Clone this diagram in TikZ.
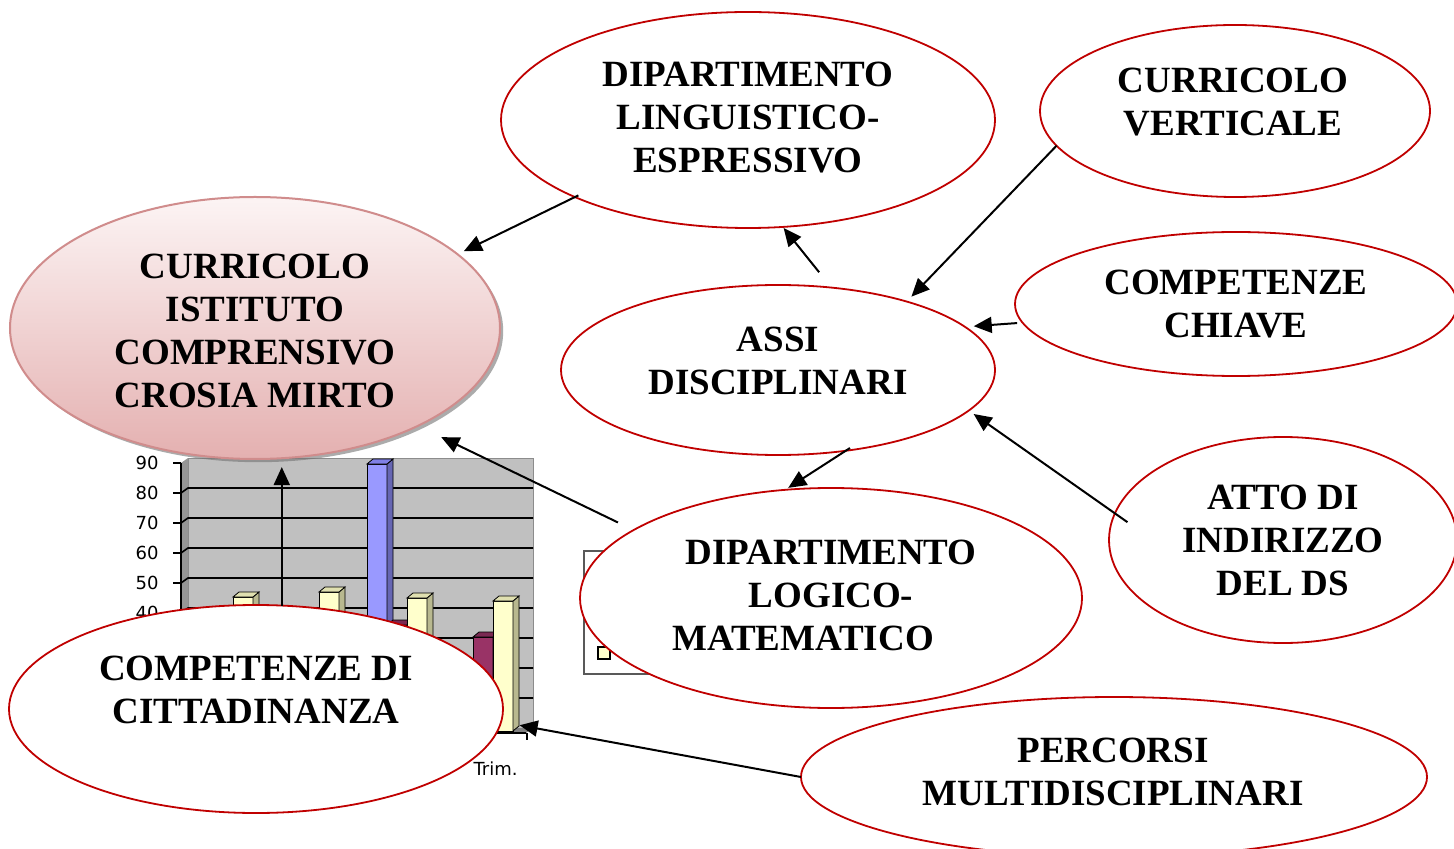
\documentclass[tikz,border=0pt]{standalone}
\usepackage{fontspec}
\setmainfont{Liberation Serif}
\newfontfamily\chartfont{DejaVu Sans}
\usetikzlibrary{shapes.geometric,arrows.meta,shadows}
\definecolor{ovalred}{RGB}{192,0,0}
\definecolor{pinkline}{RGB}{208,140,140}
\definecolor{pinktop}{RGB}{252,244,244}
\definecolor{pinkbot}{RGB}{228,176,176}
\definecolor{wallgray}{RGB}{192,192,192}
\definecolor{sidegray}{RGB}{150,150,150}
\definecolor{floorgray}{RGB}{128,128,128}
\definecolor{yfront}{RGB}{255,255,204}
\definecolor{yside}{RGB}{184,184,143}
\definecolor{ytop}{RGB}{224,224,176}
\definecolor{bfront}{RGB}{153,153,255}
\definecolor{bside}{RGB}{102,102,179}
\definecolor{btop}{RGB}{128,128,230}
\definecolor{mfront}{RGB}{153,51,102}
\definecolor{mside}{RGB}{102,34,68}
\definecolor{mtop}{RGB}{122,41,82}
\newcommand{\mybar}[3]{%
  \filldraw[barline, fill=#3front] (#1,#2) rectangle (#1+20,731);
  \filldraw[barline, fill=#3side] (#1+20,#2) -- (#1+26,#2-5) -- (#1+26,726) -- (#1+20,731) -- cycle;
  \filldraw[barline, fill=#3top] (#1,#2) -- (#1+6,#2-5) -- (#1+26,#2-5) -- (#1+20,#2) -- cycle;
}
\tikzset{
  oval/.style={ellipse, draw=ovalred, line width=0.9pt, fill=white, inner sep=0pt, outer sep=0pt},
  pinkoval/.style={ellipse, draw=pinkline, line width=1pt, top color=pinktop, bottom color=pinkbot,
    inner sep=0pt, outer sep=0pt,
    drop shadow={shadow xshift=1.6pt, shadow yshift=-1.6pt, fill=black!55, opacity=0.6}},
  txt/.style={font=\fontsize{18.5pt}{21.5pt}\selectfont\bfseries, align=center, inner sep=0pt},
  arr/.style={-{Triangle[length=9pt,width=8pt]}, line width=1pt, black},
  barline/.style={draw=black, line width=0.4pt},
  grid/.style={black, line width=0.8pt},
  chartlab/.style={font=\chartfont\fontsize{9pt}{11pt}\selectfont, inner sep=0pt},
}
\begin{document}
\begin{tikzpicture}[x=0.5pt, y=-0.5pt]
\useasboundingbox (0,0) rectangle (1454,849);
\fill[white] (0,0) rectangle (1454,849);
% ---------- chart behind ----------
\fill[sidegray] (181,463) -- (188,458) -- (188,728) -- (181,733) -- cycle;
\filldraw[fill=wallgray, draw=black!45, line width=0.5pt] (188,458) rectangle (533,728);
\fill[floorgray] (181,733) -- (188,728) -- (533,728) -- (526,733) -- cycle;
\foreach \y in {488,518,...,698} { \draw[grid] (181,\y+5) -- (188,\y) -- (533,\y); }
\draw[black, line width=0.8pt] (181,463) -- (181,733) -- (526,733);
\foreach \y in {463,493,...,733} { \draw[black, line width=0.8pt] (173,\y) -- (181,\y); }
\draw[black, line width=0.6pt] (527,733) -- (527,740);
\foreach \v/\y in {90/463,80/493,70/523,60/553,50/583,40/613} {
  \node[chartlab, anchor=east] (ylab\v) at (159,\y) {\v};
}
\mybar{233}{597}{y}
\mybar{319}{592}{y}
\mybar{367}{464}{b}
\mybar{387}{625}{m}
\mybar{407}{598}{y}
\mybar{473}{637}{m}
\mybar{493}{601}{y}
\node[chartlab, anchor=base east] (trim) at (518,775) {Trim.};
% legend box
\filldraw[fill=white, draw=black!65, line width=0.6pt] (584,551) rectangle (690,674);
\filldraw[fill=yfront, draw=black, line width=0.8pt] (598,647) rectangle (610,659);
% ---------- ellipses ----------
\node[oval, minimum width=247pt, minimum height=108pt] (ling) at (748,120) {};
\node[txt] (lingT) at (748,118) {DIPARTIMENTO\\LINGUISTICO-\\ESPRESSIVO};
\node[oval, minimum width=195pt, minimum height=86pt] (vert) at (1235,111) {};
\node[txt] (vertT) at (1233,102) {CURRICOLO\\VERTICALE};
\node[pinkoval, minimum width=245pt, minimum height=131pt] (cur) at (255,328) {};
\node[txt] (curT) at (255,331) {CURRICOLO\\ISTITUTO\\COMPRENSIVO\\CROSIA MIRTO};
\node[oval, minimum width=217pt, minimum height=85pt] (assi) at (778,370) {};
\node[txt] (assiT) at (778,361) {ASSI\\DISCIPLINARI};
\node[oval, minimum width=221pt, minimum height=72pt] (chiave) at (1236,304) {};
\node[txt] (chiaveT) at (1236,304) {COMPETENZE\\CHIAVE};
\node[oval, minimum width=174pt, minimum height=103pt] (atto) at (1283,540) {};
\node[txt] (attoT) at (1283,540) {ATTO DI\\INDIRIZZO\\DEL DS};
\node[oval, minimum width=251pt, minimum height=110pt] (logico) at (831,598) {};
\node[txt] (logicoT) at (831,595) {DIPARTIMENTO\\LOGICO-\\MATEMATICO\rule{28pt}{0pt}};
\node[oval, minimum width=247pt, minimum height=104pt] (citt) at (256,709) {};
\node[txt] (cittT) at (256,690) {COMPETENZE DI\\CITTADINANZA};
\node[oval, minimum width=313pt, minimum height=80pt] (perc) at (1114,777) {};
\node[txt] (percT) at (1113,772) {PERCORSI\\MULTIDISCIPLINARI};
% ---------- connectors ----------
\draw[arr, shorten <=-1.9pt, shorten >=3.5pt] (ling.204.85) -- (cur.20.55);
\draw[arr, shorten <=9.85pt, shorten >=0.7pt] (assi.57.25) -- (ling.288.66);
\draw[arr, shorten >=3.4pt] (vert.191.43) -- (assi.28.74);
\draw[arr, shorten <=2.75pt, shorten >=4.4pt] (chiave.185.32) -- (assi.13.18);
\draw[arr, shorten <=-7.65pt, shorten >=3pt] (atto.171.22) -- (assi.348.38);
\draw[arr, shorten <=-2.5pt, shorten >=1.85pt] (assi.310.04) -- (logico.113.56);
\draw[arr, shorten <=8.7pt, shorten >=12.95pt] (logico.161.73) -- (cur.329.28);
\draw[arr, shorten >=4.4pt] (citt.76.5) -- (citt.76.5 |- cur.281.72);
\draw[arr, shorten >=9.4pt] (perc.180) -- (citt.357.32);
\end{tikzpicture}
\end{document}
